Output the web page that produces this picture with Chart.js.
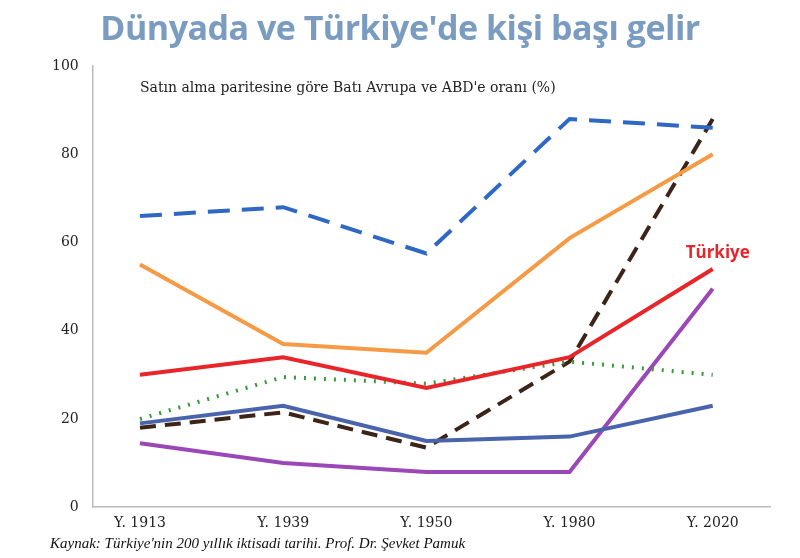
<!DOCTYPE html>
<html><head><meta charset="utf-8">
<script src="https://cdn.jsdelivr.net/npm/chart.js@4"></script>
<style>
body{margin:0;background:#fff;font-family:"DejaVu Serif",serif;}
#wrap{position:relative;width:800px;height:558px;}
#title{position:absolute;left:0;width:800px;top:4px;text-align:center;font:bold 34px "Open Sans",sans-serif;color:#7a9cc0;letter-spacing:-0.5px;}
#src{position:absolute;left:50px;top:535px;font:italic 15px "Liberation Serif",serif;color:#111;}
canvas{position:absolute;left:0;top:0;}
</style></head><body>
<div id="wrap">
<canvas id="c" width="800" height="558"></canvas>
<div id="title">Dünyada ve Türkiye'de kişi başı gelir</div>
<div id="src">Kaynak: Türkiye'nin 200 yıllık iktisadi tarihi. Prof. Dr. Şevket Pamuk</div>
</div>
<script>
// Veriler
const labels = ['Y. 1913', 'Y. 1939', 'Y. 1950', 'Y. 1980', 'Y. 2020'];
const blueDashed = [66, 68, 57.5, 88, 86];
const orange = [55, 37, 35, 61, 80];
const turkiye = [30, 34, 27, 34, 54];
const greenDotted = [20, 29.5, 28, 33, 30];
const slate = [19, 23, 15, 16, 23];
const brownDashed = [18, 21.5, 13.5, 33, 88];
const purple = [14.5, 10, 8, 8, 49.5];
const yTicks = [0, 20, 40, 60, 80, 100];

// Grafik üstü yazılar
const textPlugin = {
    id: 'texts',
    afterDraw(chart) {
        const c = chart.ctx, x = chart.scales.x, y = chart.scales.y;
        c.save();
        c.font = '14px "DejaVu Serif", serif';
        c.fillStyle = '#222';
        c.textBaseline = 'middle';
        c.fillText("Satın alma paritesine göre Batı Avrupa ve ABD'e oranı (%)", 140, 88);
        c.font = 'bold 17px "Open Sans", sans-serif';
        c.fillStyle = '#e8262a';
        c.textAlign = 'center';
        c.fillText('Türkiye', x.getPixelForValue(4) + 5, y.getPixelForValue(57.5));
        c.restore();
    }
};

const ds = (data, color, dash) => ({
    data: data.map((v, i) => ({ x: i, y: v })), borderColor: color, borderWidth: 4, borderDash: dash || [],
    pointRadius: 0, tension: 0, fill: false
});

new Chart(document.getElementById('c').getContext('2d'), {
    type: 'line',
    data: {
        datasets: [
            ds(blueDashed, '#2f67c4', [22, 12]),
            ds(orange, '#f59a45'),
            ds(turkiye, '#e8262a'),
            ds(greenDotted, '#3a9a3a', [2, 8]),
            ds(slate, '#4a63ad'),
            ds(brownDashed, '#3d2418', [16, 9]),
            ds(purple, '#9b47b8')
        ]
    },
    plugins: [textPlugin],
    options: {
        responsive: false, animation: false,
        layout: { padding: { top: 66, bottom: 18, left: 38, right: 30 } },
        plugins: { legend: { display: false }, tooltip: { enabled: false } },
        scales: {
            x: {
                type: 'linear', min: -0.33, max: 4.4,
                afterBuildTicks: a => { a.ticks = labels.map((l, i) => ({ value: i })); },
                grid: { display: false, drawTicks: false },
                border: { color: '#bbb', width: 1.5 },
                ticks: { color: '#222', font: { family: 'DejaVu Serif', size: 14 }, padding: 8,
                         callback: v => labels[v] }
            },
            y: {
                min: 0, max: 100,
                afterBuildTicks: a => { a.ticks = yTicks.map(v => ({ value: v })); },
                grid: { display: false, drawTicks: false },
                border: { color: '#bbb', width: 1.5 },
                ticks: { color: '#222', font: { family: 'DejaVu Serif', size: 14 }, padding: 14 }
            }
        }
    }
});
</script>
</body></html>
